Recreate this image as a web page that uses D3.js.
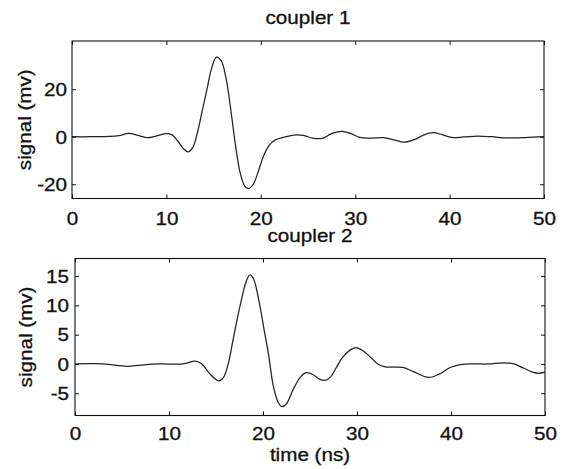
<!DOCTYPE html>
<html>
<head>
<meta charset="utf-8">
<script src="https://cdn.jsdelivr.net/npm/d3@7/dist/d3.min.js"></script>
<style>
	body { margin: 0; background: #fff; }
	text { font-family: "Liberation Sans", Arial, Helvetica, sans-serif; fill: #111; stroke: #111; stroke-width: 0.3px; }
</style>
</head>
<body>
<svg id="chart" width="562" height="469"></svg>
<script>
// shared x ticks (ns)
var timeTicks = [0, 10, 20, 30, 40, 50];

// coupler 1 trace
var coupler1Time = [0, 2, 4, 5, 6, 7, 8, 9, 10, 10.6, 11.2, 11.8, 12.3, 12.8, 13.3, 13.8, 14.3, 14.8, 15.3, 15.8,
	16.3, 16.8, 17.3, 17.8, 18.3, 18.7, 19.2, 19.7, 20.3, 20.9, 21.6, 22.5, 23.5, 24.5, 25.5, 26.5, 27.5, 28.6,
	29.5, 30.5, 31.5, 33, 34, 35.2, 36.3, 37.3, 38.2, 39.2, 40.2, 41.5, 43, 44.5, 46, 48, 50];
var coupler1Signal = [0, 0, 0.1, 0.5, 1.4, 0.6, -0.4, 0.4, 1.3, 0.8, -1.8, -5, -6.4, -4.5, 2, 11, 20, 29, 33.5, 32,
	25, 12, -3, -15, -20.8, -21.8, -20, -15, -8, -3.5, -1.2, -0.2, 0.7, 0.6, -0.6, -0.7, 1.3, 2.3,
	1.4, -0.3, -0.6, -0.4, -1.2, -2.3, -1.2, 0.8, 1.7, 0.9, -0.3, -0.1, 0.3, 0, -0.5, -0.4, 0];
var coupler1Ticks = [-20, 0, 20];

// coupler 2 trace
var coupler2Time = [0, 3, 5.5, 7, 9, 11.5, 12.8, 13.5, 14.3, 15.3, 15.8, 16.3, 16.8, 17.5, 18.2, 18.6, 19, 19.6,
	20.1, 20.6, 21.1, 21.6, 22, 22.5, 23.2, 24, 24.6, 25.3, 26, 26.6, 27.2, 27.8, 28.5, 29.3, 29.9, 30.6, 31.4,
	32.2, 33, 34.9, 36, 37.6, 38.8, 39.9, 41, 42.5, 44, 45.6, 46.7, 47.7, 48.7, 49.3, 50];
var coupler2Signal = [0, 0, -0.4, -0.2, 0, 0, 0.5, 0, -1.6, -2.9, -2.3, 0, 4, 9.5, 14, 15.2, 14.5, 10.5,
	6, 1.5, -3.8, -6.5, -7.3, -6.8, -4.4, -2.2, -1.5, -1.8, -2.6, -2.8, -2.2, -0.6, 1.2, 2.4, 2.8, 2.3, 1.2,
	0, -0.5, -0.6, -1.3, -2.3, -1.7, -0.6, -0.1, 0, 0, 0.2, 0, -0.7, -1.4, -1.6, -1.4];
var coupler2Ticks = [-5, 0, 5, 10, 15];

class SignalPanel{
	/*
		One matlab style subplot: boxed axes, inward ticks on all four sides,
		a title on top and a single black trace.
	*/
	constructor(svgId, time, signal, yTicks, config) {
		this.cfg = config;
		this.stretch = 1.18;      // scanned font is wide, squeeze it out horizontally
		this.fontSize = "17.5px";
		this.svg = d3.select(svgId);
		this.g = this.svg.append("g");

		this.x = d3.scaleLinear().domain([0, 50]).range([config.left, config.right]);
		this.y = d3.scaleLinear().domain(config.yDomain).range([config.bottom, config.top]);

		this.data = time.map(function(t, i){ return {t: t, v: signal[i]}; });

		this._drawAxes(yTicks);
		this._drawTrace();
		this._drawTexts();
	}
	_drawAxes(yTicks){
		var c = this.cfg, that = this;
		var bottom = d3.axisBottom(this.x).tickValues(timeTicks).tickSizeInner(-4).tickSizeOuter(0);
		var top = d3.axisTop(this.x).tickValues(timeTicks).tickSizeInner(-4).tickSizeOuter(0).tickFormat("");
		var left = d3.axisLeft(this.y).tickValues(yTicks).tickSizeInner(-4).tickSizeOuter(0);
		var right = d3.axisRight(this.y).tickValues(yTicks).tickSizeInner(-4).tickSizeOuter(0).tickFormat("");

		var gb = this.g.append("g").attr("transform", "translate(0," + c.bottom + ")").call(bottom);
		this.g.append("g").attr("transform", "translate(0," + c.top + ")").call(top);
		var gl = this.g.append("g").attr("transform", "translate(" + c.left + ",0)").call(left);
		this.g.append("g").attr("transform", "translate(" + c.right + ",0)").call(right);

		this.g.selectAll(".domain").remove();
		this.g.selectAll(".tick line").attr("stroke", "#111").attr("stroke-width", 1);

		gb.selectAll("text")
			.attr("y", c.xTickBaseline - c.bottom).attr("dy", null)
			.attr("transform", "scale(" + that.stretch + ",1)")
			.attr("font-size", that.fontSize).attr("font-family", null).attr("fill", null);
		gl.selectAll("text")
			.attr("x", -c.yTickGap / that.stretch).attr("dy", "0.36em")
			.attr("transform", "scale(" + that.stretch + ",1)")
			.attr("font-size", that.fontSize).attr("font-family", null).attr("fill", null)
			.text(function(d){ return d < 0 ? "-" + Math.abs(d) : d; });

		this.g.append("rect")
			.attr("x", c.left).attr("y", c.top)
			.attr("width", c.right - c.left).attr("height", c.bottom - c.top)
			.attr("fill", "none").attr("stroke", "#111").attr("stroke-width", 1.1);
	}
	_drawTrace(){
		var that = this;
		var line = d3.line()
			.x(function(d){ return that.x(d.t); })
			.y(function(d){ return that.y(d.v); })
			.curve(d3.curveCatmullRom.alpha(0.5));
		this.g.append("path")
			.datum(this.data)
			.attr("d", line)
			.attr("fill", "none")
			.attr("stroke", "#222")
			.attr("stroke-width", 1.25);
	}
	_label(x, y, txt, rotate){
		var tr = "translate(" + x + "," + y + ")" + (rotate ? " rotate(-90)" : "") + " scale(" + this.stretch + ",1)";
		this.svg.append("text")
			.attr("transform", tr)
			.attr("text-anchor", "middle")
			.attr("font-size", this.fontSize)
			.text(txt);
	}
	_drawTexts(){
		var c = this.cfg;
		var midX = (c.left + c.right) / 2;
		this._label(midX, c.titleBaseline, c.title, false);
		this._label(c.yLabelX, (c.top + c.bottom) / 2, "signal (mv)", true);
		if(c.xLabel){
			this._label(midX, c.xLabelBaseline, c.xLabel, false);
		}
	}
}

new SignalPanel("#chart", coupler1Time, coupler1Signal, coupler1Ticks, {
	left: 72, right: 544, top: 41, bottom: 198.5,
	yDomain: [-26, 40.3],
	title: "coupler 1", titleBaseline: 24,
	xTickBaseline: 225, yTickGap: 5, yLabelX: 31
});
new SignalPanel("#chart", coupler2Time, coupler2Signal, coupler2Ticks, {
	left: 75, right: 545, top: 258.5, bottom: 415.5,
	yDomain: [-8.8, 18],
	title: "coupler 2", titleBaseline: 242,
	xTickBaseline: 440, yTickGap: 6, yLabelX: 32,
	xLabel: "time (ns)", xLabelBaseline: 461
});
</script>
</body>
</html>
